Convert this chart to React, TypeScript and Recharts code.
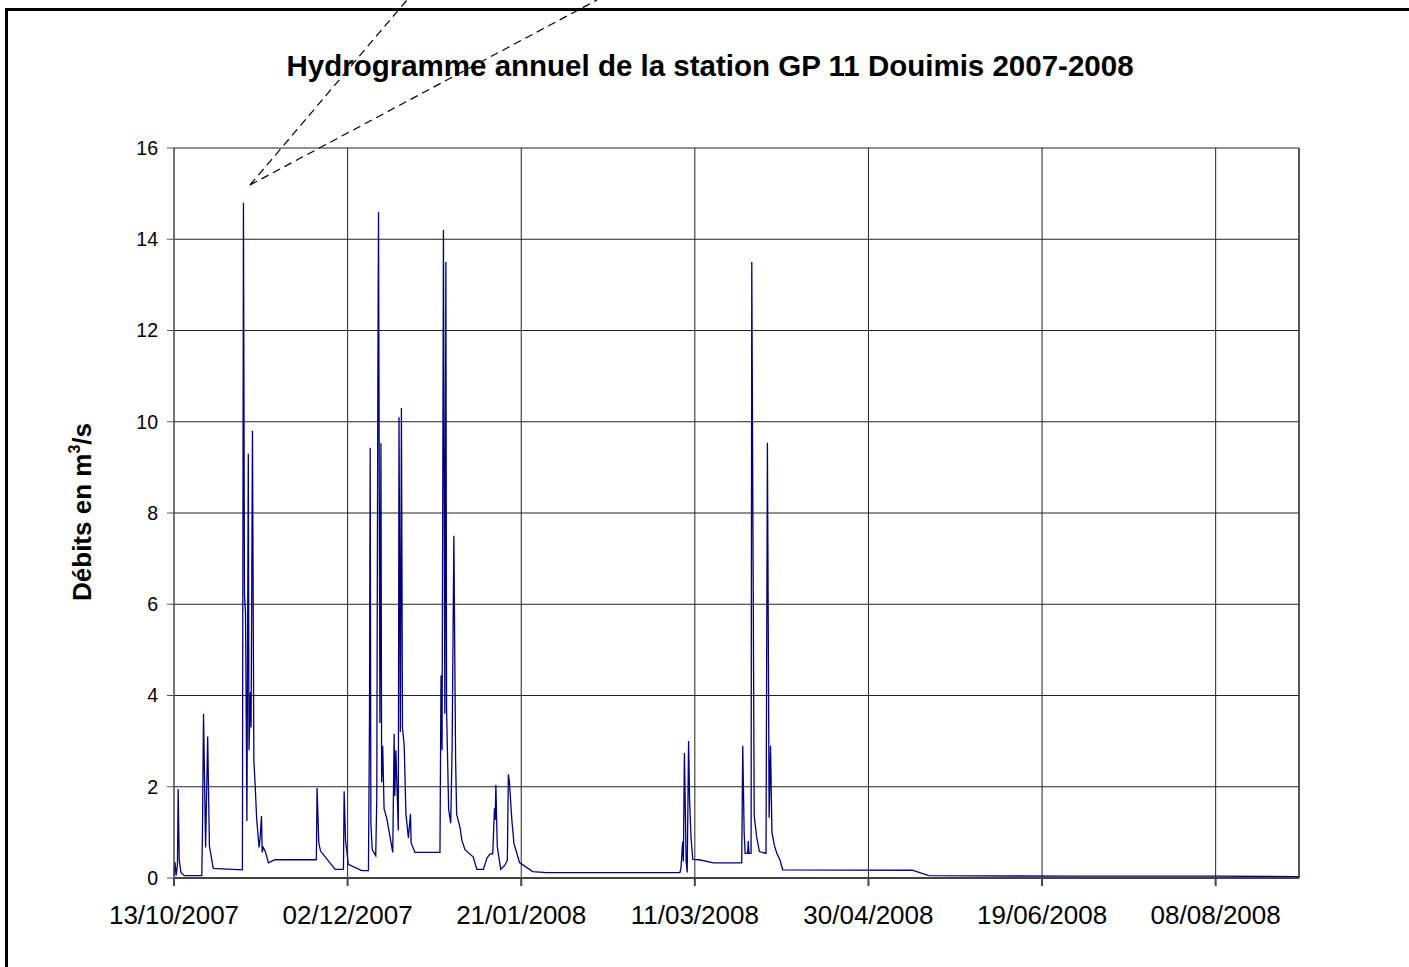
import { CartesianGrid, Label, Line, LineChart, ReferenceLine, XAxis, YAxis } from 'recharts'

// days counted from 13/10/2007, flows in m3/s
const days = [
  0, 0.3, 0.6, 1.0, 1.2, 1.5, 2.0, 3.0, 8.0, 8.2, 8.5, 9.1, 9.7, 10.2, 11.3, 19.7, 20.0, 20.3, 20.6,
  21.0, 21.4, 21.6, 22.0, 22.2, 22.6, 23.0, 23.4, 23.8, 24.5, 24.8, 25.2, 25.4, 25.7, 26.3, 27.2,
  29.1, 41.0, 41.2, 41.7, 42.2, 46.4, 48.8, 49.0, 49.4, 50.2, 54.1, 56.0, 56.3, 56.5, 56.7, 57.1,
  58.1, 58.4, 58.7, 58.9, 59.3, 59.6, 59.8, 60.1, 60.5, 61.3, 63.0, 63.4, 63.6, 63.9, 64.6, 64.8,
  65.2, 65.5, 65.8, 66.3, 66.8, 67.5, 68.1, 68.3, 69.4, 76.6, 76.9, 77.2, 77.6, 78.0, 78.3, 78.5,
  79.1, 79.7, 80.1, 80.6, 81.1, 81.4, 82.4, 82.9, 83.8, 86.2, 87.2, 89.1, 90.1, 91.0, 91.8, 92.3,
  92.5, 92.7, 93.1, 94.1, 95.3, 96.0, 96.3, 96.6, 97.3, 97.9, 99.5, 103.3, 107.3, 145.7, 146.0,
  146.5, 146.7, 147.0, 147.5, 147.8, 148.2, 148.5, 148.9, 149.4, 151.2, 155.4, 163.5, 163.8,
  164.2, 164.5, 165.2, 165.4, 165.6, 166.2, 166.4, 167.1, 167.8, 168.6, 170.5, 170.9, 171.4,
  171.8, 172.2, 172.9, 173.6, 174.5, 175.3, 212.6, 217.4, 260, 300, 324,
]
const flows = [
  0.05, 0.35, 0.05, 0.3, 1.95, 0.4, 0.12, 0.05, 0.05, 1.0, 3.6, 0.67, 3.1, 0.7, 0.21, 0.18, 14.8,
  6.2, 5.8, 1.25, 9.3, 2.8, 4.07, 3.3, 9.8, 2.58, 2.0, 1.3, 0.67, 0.88, 1.36, 0.56, 0.67, 0.58,
  0.33, 0.4, 0.4, 1.97, 0.77, 0.59, 0.19, 0.19, 1.9, 0.83, 0.3, 0.16, 0.16, 3.5, 9.43, 1.2, 0.62,
  0.49, 1.73, 10.75, 14.6, 3.4, 9.53, 2.1, 2.9, 1.52, 1.3, 0.56, 3.16, 1.8, 2.8, 1.04, 10.1, 3.2,
  10.3, 3.3, 2.9, 1.4, 0.88, 1.4, 0.77, 0.56, 0.56, 4.44, 2.8, 14.2, 3.6, 13.5, 3.7, 1.5, 1.2,
  2.85, 7.5, 2.6, 1.4, 1.1, 0.83, 0.62, 0.46, 0.19, 0.19, 0.43, 0.53, 0.53, 1.53, 1.27, 2.04, 0.69,
  0.19, 0.28, 0.39, 2.27, 2.1, 1.27, 0.76, 0.34, 0.14, 0.12, 0.12, 0.21, 0.8, 0.36, 2.74, 0.36,
  0.12, 3.0, 1.67, 0.9, 0.41, 0.4, 0.33, 0.33, 2.9, 1.0, 0.54, 0.54, 0.81, 0.54, 0.54, 13.5, 1.37,
  0.9, 0.58, 0.54, 9.54, 1.32, 2.9, 1.0, 0.72, 0.54, 0.4, 0.18, 0.17, 0.05, 0.04, 0.04, 0.03,
]

const tickDays = [0, 50, 100, 150, 200, 250, 300]
const tickLabels = [
  '13/10/2007',
  '02/12/2007',
  '21/01/2008',
  '11/03/2008',
  '30/04/2008',
  '19/06/2008',
  '08/08/2008',
]
const flowTicks = [0, 2, 4, 6, 8, 10, 12, 14, 16]
const lastDay = 324

const data = days.map((d, i) => ({ day: d, flow: flows[i] }))

const font = '"Liberation Sans", Arial, sans-serif'

const App = () => {
  return (
    <div style={{ position: 'absolute', left: 0, top: 0, width: 1409, height: 967, background: '#fff' }}>
      <LineChart
        width={1409}
        height={967}
        data={data}
        margin={{ top: 148, right: 110, left: 114, bottom: 39 }}
        style={{ fontFamily: font }}
      >
        <CartesianGrid stroke="#222" strokeWidth={1} />
        <XAxis
          dataKey="day"
          type="number"
          domain={[0, lastDay]}
          ticks={tickDays}
          tickFormatter={(v) => tickLabels[tickDays.indexOf(v)] ?? ''}
          interval={0}
          height={50}
          tickSize={8}
          tickMargin={20}
          stroke="#444"
          strokeWidth={2}
          tick={{ fill: '#000', fontSize: 26 }}
        />
        <YAxis
          type="number"
          domain={[0, 16]}
          ticks={flowTicks}
          interval={0}
          width={60}
          tickSize={7}
          tickMargin={9}
          stroke="#555"
          tick={{ fill: '#000', fontSize: 19.5 }}
        >
          <Label
            content={() => (
              <text
                x={91}
                y={512}
                transform="rotate(-90 91 512)"
                textAnchor="middle"
                fontWeight="bold"
                fontSize={26}
                fill="#000"
                style={{ fontFamily: font }}
              >
                Débits en m
                <tspan fontSize={16} dy={-11}>
                  3
                </tspan>
                <tspan dy={11}>/s</tspan>
              </text>
            )}
          />
        </YAxis>
        <ReferenceLine x={lastDay} stroke="#444" strokeWidth={1.5} />
        <Line
          type="linear"
          dataKey="flow"
          stroke="#000080"
          strokeWidth={1.3}
          dot={false}
          isAnimationActive={false}
        />
      </LineChart>
      <svg
        width={1409}
        height={967}
        style={{ position: 'absolute', left: 0, top: 0, pointerEvents: 'none' }}
      >
        <line x1={6.5} y1={8} x2={6.5} y2={967} stroke="#000" strokeWidth={3} />
        <line x1={5} y1={9.5} x2={1409} y2={9.5} stroke="#000" strokeWidth={3} />
        <text
          x={710}
          y={76}
          textAnchor="middle"
          fontWeight="bold"
          fontSize={29.5}
          fill="#000"
          style={{ fontFamily: font }}
        >
          Hydrogramme annuel de la station GP 11 Douimis 2007-2008
        </text>
        <line x1={250} y1={185} x2={407} y2={0} stroke="#000" strokeWidth={1.2} strokeDasharray="8 5" />
        <line x1={250} y1={185} x2={597} y2={0} stroke="#000" strokeWidth={1.2} strokeDasharray="8 5" />
      </svg>
    </div>
  )
}

export default App
